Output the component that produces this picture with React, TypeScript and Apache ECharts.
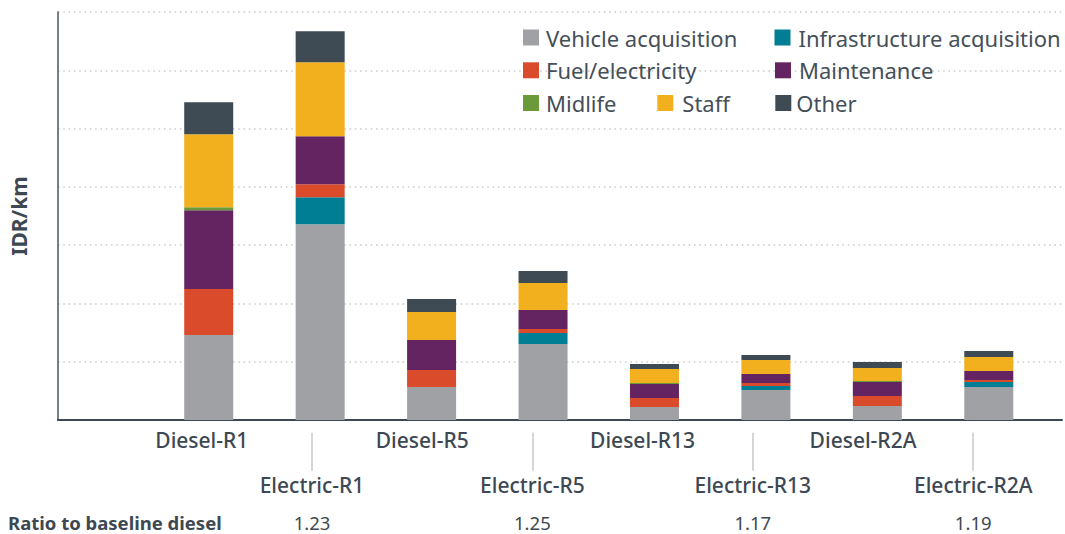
import React, { useEffect, useRef } from "react";
import * as echarts from "echarts";

const categories = ["Diesel-R1", "Electric-R1", "Diesel-R5", "Electric-R5", "Diesel-R13", "Electric-R13", "Diesel-R2A", "Electric-R2A"];
const vehicleAcquisition = [1457, 3360, 566, 1303, 223, 514, 240, 566];
const infrastructureAcquisition = [0, 463, 0, 189, 0, 69, 0, 86];
const fuelElectricity = [789, 223, 291, 69, 154, 51, 171, 34];
const maintenance = [1354, 823, 514, 326, 240, 154, 240, 154];
const midlife = [51, 0, 0, 0, 17, 0, 17, 0];
const staff = [1251, 1269, 480, 463, 240, 240, 223, 240];
const other = [549, 531, 223, 206, 86, 86, 103, 103];
const ratios = ["", "1.23", "", "1.25", "", "1.17", "", "1.19"];
const yMax = 7000;
const yInterval = 1000;

const seriesDefs = [
  { name: "Vehicle acquisition", data: vehicleAcquisition, color: "#a0a1a5" },
  { name: "Infrastructure acquisition", data: infrastructureAcquisition, color: "#007f94" },
  { name: "Fuel/electricity", data: fuelElectricity, color: "#d94b2b" },
  { name: "Maintenance", data: maintenance, color: "#632461" },
  { name: "Midlife", data: midlife, color: "#6a9a3a" },
  { name: "Staff", data: staff, color: "#f2af1e" },
  { name: "Other", data: other, color: "#3e4a54" },
];

const FONT = "'Noto Sans', sans-serif";
const TXT = "#3d4852";

const legendLayout: [string, number, number, number][] = [
  ["Vehicle acquisition", 523, 25.5, 2],
  ["Infrastructure acquisition", 774.5, 25.5, 3],
  ["Fuel/electricity", 523, 58.3, 2],
  ["Maintenance", 775, 58.3, 3],
  ["Midlife", 523, 91, 2],
  ["Staff", 657.3, 91, 4],
  ["Other", 775.3, 91, 0],
];

export default function App() {
  const ref = useRef<HTMLDivElement>(null);
  useEffect(() => {
    if (!ref.current) return;
    const chart = echarts.init(ref.current, null, { renderer: "svg" });
    const top = 12;
    const bottom = 114;
    const hiddenY = (gridIndex: number) => ({
      type: "value",
      gridIndex,
      min: 0,
      max: yMax,
      interval: yInterval,
      show: false,
    });
    const option: any = {
      animation: false,
      textStyle: { fontFamily: FONT },
      title: {
        text: "Ratio to baseline diesel",
        left: 8,
        top: 512,
        padding: 0,
        textStyle: { fontFamily: FONT, fontSize: 18.5, lineHeight: 20, fontWeight: "bold", color: TXT },
      },
      legend: legendLayout.map(([name, left, t, pad]) => ({
        data: [name],
        left,
        top: t,
        padding: 0,
        icon: "rect",
        itemWidth: 16,
        itemHeight: 16,
        selectedMode: false,
        textStyle: { fontFamily: FONT, fontSize: 22, color: "#454f59", lineHeight: 24, padding: [0, 0, 0, pad] },
      })),
      grid: [
        { left: 57, right: 3, top, bottom },
        { left: 153, right: 20.5, top, bottom },
        { left: 146.7, right: 36.7, top, bottom },
        { left: 146.7, right: 36.7, top, bottom: 101.3 },
        { left: 146.7, right: 36.7, top, bottom },
      ],
      xAxis: [
        {
          type: "value",
          gridIndex: 0,
          min: 0,
          max: 1,
          axisLine: { show: true, lineStyle: { color: "#3d4852", width: 2 } },
          axisTick: { show: false },
          axisLabel: { show: false },
          splitLine: { show: false },
        },
        {
          type: "category",
          gridIndex: 1,
          data: categories,
          show: false,
        },
        {
          type: "category",
          gridIndex: 2,
          data: categories,
          axisLine: { show: false },
          axisTick: { show: false },
          axisLabel: {
            interval: (i: number) => i % 2 === 0,
            margin: 9,
            fontFamily: FONT,
            fontSize: 21,
            fontWeight: 500,
            color: TXT,
          },
        },
        {
          type: "category",
          gridIndex: 3,
          data: categories,
          axisLine: { show: false },
          axisTick: {
            show: true,
            alignWithLabel: true,
            interval: (i: number) => i % 2 === 1,
            length: 38,
            lineStyle: { color: "#c8c8c8", width: 1.5 },
          },
          axisLabel: {
            interval: (i: number) => i % 2 === 1,
            margin: 42,
            fontFamily: FONT,
            fontSize: 21,
            fontWeight: 500,
            color: TXT,
          },
        },
        {
          type: "category",
          gridIndex: 4,
          data: categories,
          axisLine: { show: false },
          axisTick: { show: false },
          axisLabel: {
            interval: (i: number) => i % 2 === 1,
            margin: 93,
            lineHeight: 18,
            formatter: (_v: string, i: number) => ratios[i],
            fontFamily: FONT,
            fontSize: 18.5,
            color: TXT,
          },
        },
      ],
      yAxis: [
        {
          type: "value",
          gridIndex: 0,
          min: 0,
          max: yMax,
          interval: yInterval,
          name: "IDR/km",
          nameLocation: "middle",
          nameGap: 29,
          nameTextStyle: { fontFamily: FONT, fontSize: 21, fontWeight: "bold", color: TXT },
          axisLine: { show: true, lineStyle: { color: "#4a5560", width: 1.5 } },
          axisTick: { show: false },
          axisLabel: { show: false },
          splitLine: { show: true, lineStyle: { color: "#cccccc", width: 1.6, type: [1.6, 3.7] } },
        },
        hiddenY(1),
        hiddenY(2),
        hiddenY(3),
        hiddenY(4),
      ],
      series: seriesDefs.map((s) => ({
        name: s.name,
        type: "bar",
        stack: "total",
        xAxisIndex: 1,
        yAxisIndex: 1,
        barWidth: 49,
        data: s.data,
        itemStyle: { color: s.color },
      })),
    };
    chart.setOption(option);
    return () => chart.dispose();
  }, []);
  return <div ref={ref} style={{ width: 1065, height: 534, position: "absolute", left: 0, top: 0 }} />;
}
